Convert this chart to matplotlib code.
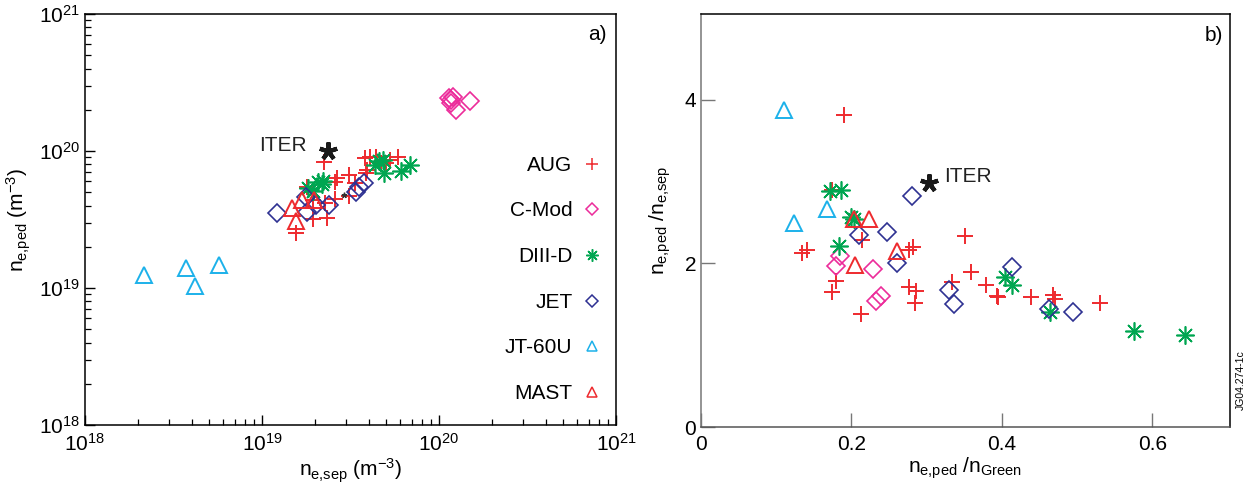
import matplotlib
matplotlib.use("Agg")
import matplotlib.pyplot as plt
import numpy as np

plt.rcParams['font.family'] = ['Liberation Sans', 'DejaVu Sans']
plt.rcParams['mathtext.fontset'] = 'custom'
plt.rcParams['mathtext.rm'] = 'Liberation Sans'
plt.rcParams['mathtext.it'] = 'Liberation Sans'

# ---------------- data: panel a) (units 1e19 m^-3) ----------------
aug_sep_a = [2.25, 2.66, 2.6, 3.1, 3.36, 3.1, 2.6, 3.8, 4.1, 3.9, 4.7, 5.3, 5.9, 1.8, 1.95, 1.95, 2.34, 1.55, 2.28, 4.4, 5.0, 3.86]
aug_ped_a = [8.3, 6.4, 5.9, 6.7, 5.8, 4.7, 4.5, 8.9, 9.1, 7.3, 8.2, 8.6, 9.1, 5.5, 4.4, 3.2, 3.25, 2.5, 4.2, 9.0, 8.2, 6.9]
cmod_sep_a = [11.4, 11.7, 12.0, 11.7, 12.5, 14.9]
cmod_ped_a = [24.4, 23.7, 24.8, 22.4, 20.0, 23.1]
d3d_sep_a = [1.81, 2.06, 2.17, 2.22, 1.95, 4.35, 4.57, 4.8, 4.9, 6.1, 6.9]
d3d_ped_a = [5.4, 5.9, 5.7, 6.0, 5.1, 7.9, 8.4, 8.6, 6.9, 7.1, 7.9]
jet_sep_a = [1.22, 1.78, 1.80, 2.02, 2.4, 3.4, 3.55, 3.76]
jet_ped_a = [3.52, 4.6, 3.6, 4.04, 4.04, 5.0, 5.46, 5.8]
jt60_sep_a = [0.215, 0.37, 0.42, 0.57]
jt60_ped_a = [1.25, 1.40, 1.03, 1.48]
mast_sep_a = [1.48, 1.56, 1.69, 1.97]
mast_ped_a = [3.84, 3.1, 4.4, 4.4]
iter_sep_a = [2.35]
iter_ped_a = [10.0]
small_sep_a = [2.9]
small_ped_a = [4.8]

# ---------------- data: panel b) ----------------
aug_g = [0.190, 0.174, 0.134, 0.141, 0.214, 0.276, 0.282, 0.351, 0.180, 0.174, 0.212, 0.276, 0.286, 0.285, 0.333, 0.359, 0.379, 0.393, 0.395, 0.439, 0.468, 0.471, 0.530]
aug_r = [3.82, 2.90, 2.13, 2.17, 2.29, 2.17, 2.20, 2.33, 1.78, 1.65, 1.38, 1.71, 1.66, 1.52, 1.77, 1.90, 1.74, 1.60, 1.59, 1.59, 1.62, 1.56, 1.52]
cmod_g = [0.185, 0.180, 0.229, 0.233, 0.239]
cmod_r = [2.09, 1.97, 1.93, 1.54, 1.60]
d3d_g = [0.172, 0.186, 0.199, 0.203, 0.183, 0.404, 0.413, 0.464, 0.575, 0.643]
d3d_r = [2.88, 2.90, 2.57, 2.54, 2.21, 1.83, 1.74, 1.41, 1.17, 1.12]
jet_g = [0.280, 0.210, 0.247, 0.260, 0.329, 0.413, 0.336, 0.462, 0.495]
jet_r = [2.82, 2.35, 2.38, 2.01, 1.68, 1.96, 1.50, 1.44, 1.41]
jt60_g = [0.110, 0.123, 0.167]
jt60_r = [3.88, 2.50, 2.66]
mast_g = [0.203, 0.223, 0.260, 0.204]
mast_r = [2.54, 2.54, 2.15, 1.98]
iter_g = [0.303]
iter_r = [2.98]

labels = ['AUG', 'C-Mod', 'DIII-D', 'JET', 'JT-60U', 'MAST']

RED = '#ee2a2e'
MAG = '#ec2c9a'
GRN = '#00a651'
NAVY = '#2e3192'
CYAN = '#1cb1ea'

FS = 15
ast8 = (8, 2, 0)
ast5 = (5, 2, 0)
styles = {
    'AUG': dict(marker='+', color=RED, ms=12, mew=1.4, mfc='none', ls='none'),
    'C-Mod': dict(marker='D', color=MAG, ms=9.5, mew=1.2, mfc='none', ls='none'),
    'DIII-D': dict(marker=ast8, color=GRN, ms=13, mew=1.2, mfc='none', ls='none'),
    'JET': dict(marker='D', color=NAVY, ms=9.5, mew=1.2, mfc='none', ls='none'),
    'JT-60U': dict(marker='^', color=CYAN, ms=11.5, mew=1.4, mfc='none', ls='none'),
    'MAST': dict(marker='^', color=RED, ms=11.5, mew=1.4, mfc='none', ls='none'),
}
iter_style = dict(marker=ast5, color='#1a1a1a', ms=13, mew=3.0, ls='none')

fig = plt.figure(figsize=(12.54, 4.86), dpi=100)
axA = fig.add_axes([85/1254, 1-425/486, (616-85)/1254, (425-14)/486])
axB = fig.add_axes([701/1254, 1-427/486, (1230-701)/1254, (427-14)/486])

# ---------- panel a ----------
E = 1e19
sets_a = [('AUG', aug_sep_a, aug_ped_a), ('C-Mod', cmod_sep_a, cmod_ped_a),
          ('DIII-D', d3d_sep_a, d3d_ped_a), ('JET', jet_sep_a, jet_ped_a),
          ('JT-60U', jt60_sep_a, jt60_ped_a), ('MAST', mast_sep_a, mast_ped_a)]
for name, xs, ys in sets_a:
    axA.plot(np.array(xs)*E, np.array(ys)*E, **styles[name])
axA.plot(np.array(small_sep_a)*E, np.array(small_ped_a)*E, marker=ast5, color='#333333',
         ms=4, mew=1, ls='none')
axA.plot(np.array(iter_sep_a)*E, np.array(iter_ped_a)*E, **iter_style)
axA.annotate('ITER', xy=(iter_sep_a[0]*E, iter_ped_a[0]*E), xytext=(-15, 4),
             textcoords='offset points', ha='right', va='center', fontsize=FS, color='#222222')

axA.set_xscale('log')
axA.set_yscale('log')
axA.set_xlim(1e18, 1e21)
axA.set_ylim(1e18, 1e21)
for s in axA.spines.values():
    s.set_linewidth(1.1)
axA.tick_params(which='both', direction='in', top=False, right=False, labelsize=FS)
axA.tick_params(which='major', length=7, width=1)
axA.tick_params(which='minor', length=4, width=0.9)
axA.tick_params(axis='x', pad=6)
axA.set_xlabel(r'n$_{\mathregular{e{,}sep}}$ (m$^{\mathregular{-3}}$)', fontsize=FS, labelpad=1)
axA.set_ylabel(r'n$_{\mathregular{e{,}ped}}$ (m$^{\mathregular{-3}}$)', fontsize=FS, labelpad=4)
axA.text(0.964, 0.949, 'a)', transform=axA.transAxes, ha='center', va='center', fontsize=FS)

handles = []
for name in labels:
    st = dict(styles[name])
    st['ms'] = st['ms'] * 0.68
    st['mew'] = 1.1
    h, = axA.plot([], [], **st)
    handles.append(h)
axA.legend(handles, labels, loc='upper right', bbox_to_anchor=(0.975, 0.655),
           markerfirst=False, frameon=False, fontsize=FS, labelspacing=1.28,
           handlelength=1.0, handletextpad=0.45, borderpad=0, borderaxespad=0)

# ---------- panel b ----------
sets_b = [('AUG', aug_g, aug_r), ('C-Mod', cmod_g, cmod_r), ('DIII-D', d3d_g, d3d_r),
          ('JET', jet_g, jet_r), ('JT-60U', jt60_g, jt60_r), ('MAST', mast_g, mast_r)]
for name, xs, ys in sets_b:
    axB.plot(xs, ys, **styles[name])
axB.plot(iter_g, iter_r, **iter_style)
axB.annotate('ITER', xy=(iter_g[0], iter_r[0]), xytext=(11, 5),
             textcoords='offset points', ha='left', va='center', fontsize=FS, color='#222222')
axB.set_xlim(0, 0.703)
axB.set_ylim(0, 5.05)
axB.set_xticks([0, 0.2, 0.4, 0.6])
axB.set_xticklabels(['0', '0.2', '0.4', '0.6'])
axB.set_yticks([0, 2, 4])
for s in axB.spines.values():
    s.set_linewidth(1.1)
axB.spines['left'].set_color('#777777')
axB.spines['bottom'].set_color('#555555')
axB.tick_params(which='both', direction='in', top=False, right=False, labelsize=FS,
                length=10, width=1, color='#777777')
axB.tick_params(axis='x', pad=6)
axB.set_xlabel(r'n$_{\mathregular{e{,}ped}}$ /n$_{\mathregular{Green}}$', fontsize=FS, labelpad=1)
axB.set_ylabel(r'n$_{\mathregular{e{,}ped}}$ /n$_{\mathregular{e{,}sep}}$', fontsize=FS, labelpad=8)
axB.text(0.970, 0.949, 'b)', transform=axB.transAxes, ha='center', va='center', fontsize=FS)
fig.text(1241/1254, 1-380/486, 'JG04.274-1c', rotation=90, ha='center', va='center', fontsize=7.5)

fig.savefig('out.png', dpi=100)
